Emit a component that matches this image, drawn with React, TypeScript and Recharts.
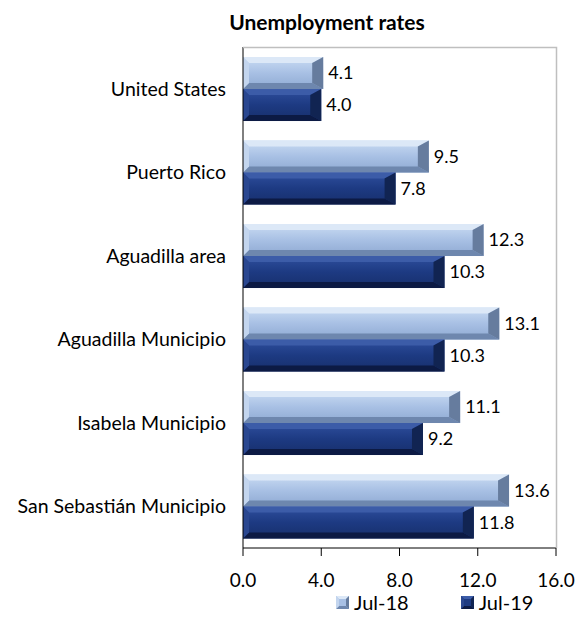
import React from "react";
import {
  BarChart,
  Bar,
  XAxis,
  YAxis,
  LabelList,
} from "recharts";

const categories = [
  "United States",
  "Puerto Rico",
  "Aguadilla area",
  "Aguadilla Municipio",
  "Isabela Municipio",
  "San Sebastián Municipio",
];
const jul18 = [4.1, 9.5, 12.3, 13.1, 11.1, 13.6];
const jul19 = [4.0, 7.8, 10.3, 10.3, 9.2, 11.8];
const xTicks = [0, 4, 8, 12, 16];
const seriesNames = ["Jul-18", "Jul-19"];

const data = categories.map((name, i) => ({ name, jul18: jul18[i], jul19: jul19[i] }));

const FONT = "Lato, 'Open Sans', sans-serif";

const palettes: Record<string, { top: string; mid: string; bot: string; tb: string; bb: string; rb: string; lb: string }> = {
  jul18: {
    top: "#cadcf3",
    mid: "#a8c0e4",
    bot: "#8ea9d2",
    tb: "#dce8f7",
    bb: "#6e87ae",
    rb: "#667c9e",
    lb: "#c3d5ee",
  },
  jul19: {
    top: "#2f4f9e",
    mid: "#1d3a82",
    bot: "#172f6c",
    tb: "#3c5ca8",
    bb: "#0c1a44",
    rb: "#112452",
    lb: "#2a4790",
  },
};

function BevelBar(props: any) {
  const { x, y, width, height, dataKey } = props;
  if (!width || width <= 0) return null;
  const p = palettes[dataKey];
  const b = Math.min(6, height / 4);
  const r = Math.min(11, width / 3);
  const id = "g-" + dataKey;
  return (
    <g>
      <defs>
        <linearGradient id={id} x1="0" y1="0" x2="0" y2="1">
          <stop offset="0%" stopColor={p.top} />
          <stop offset="50%" stopColor={p.mid} />
          <stop offset="100%" stopColor={p.bot} />
        </linearGradient>
      </defs>
      <rect x={x} y={y} width={width} height={height} fill={`url(#${id})`} />
      <polygon
        points={`${x},${y} ${x + width},${y} ${x + width - r},${y + b} ${x + b},${y + b}`}
        fill={p.tb}
      />
      <polygon
        points={`${x},${y + height} ${x + width},${y + height} ${x + width - r},${y + height - b} ${x + b},${y + height - b}`}
        fill={p.bb}
      />
      <polygon
        points={`${x + width},${y} ${x + width},${y + height} ${x + width - r},${y + height - b} ${x + width - r},${y + b}`}
        fill={p.rb}
      />
      <polygon
        points={`${x},${y} ${x},${y + height} ${x + b},${y + height - b} ${x + b},${y + b}`}
        fill={p.lb}
      />
    </g>
  );
}

function LegendIcon({ k }: { k: string }) {
  const p = palettes[k];
  return (
    <svg width={13} height={13} style={{ marginRight: 5 }}>
      <rect x={0} y={0} width={13} height={13} fill={p.mid} />
      <polygon points="0,0 13,0 10,3 3,3" fill={p.tb} />
      <polygon points="0,13 13,13 10,10 3,10" fill={p.bb} />
      <polygon points="13,0 13,13 10,10 10,3" fill={p.rb} />
      <polygon points="0,0 0,13 3,10 3,3" fill={p.lb} />
    </svg>
  );
}

export default function App() {
  const keys = ["jul18", "jul19"];
  return (
    <div style={{ position: "absolute", left: 0, top: 0, width: 579, height: 628, background: "#fff" }}>
      <div
        style={{
          position: "absolute",
          left: 207,
          top: 9,
          width: 240,
          textAlign: "center",
          fontFamily: FONT,
          fontWeight: "bold",
          fontSize: 21,
        }}
      >
        Unemployment rates
      </div>
      <BarChart
        width={579}
        height={628}
        data={data}
        layout="vertical"
        margin={{ top: 47, right: 23, bottom: 30, left: 0 }}
        barCategoryGap="12%"
        barGap={0}
      >
        <XAxis
          type="number"
          domain={[0, 16]}
          ticks={xTicks}
          tickFormatter={(v: number) => v.toFixed(1)}
          stroke="#000"
          tickSize={8}
          tickMargin={18}
          height={50}
          tick={{ fill: "#000", fontFamily: FONT, fontSize: 19 }}
        />
        <YAxis
          type="category"
          dataKey="name"
          width={243}
          axisLine={{ stroke: "#000" }}
          tickLine={false}
          tickMargin={11}
          tick={{ fill: "#000", fontFamily: FONT, fontSize: 19.5 }}
        />
        {keys.map((k, i) => (
          <Bar key={k} dataKey={k} name={seriesNames[i]} shape={<BevelBar />} isAnimationActive={false}>
            <LabelList
              dataKey={k}
              position="right"
              offset={5}
              formatter={(v: any) => Number(v).toFixed(1)}
              style={{ fill: "#000", fontFamily: FONT, fontSize: 18 }}
            />
          </Bar>
        ))}
      </BarChart>
      {/* plot area frame: top and right edges */}
      <svg style={{ position: "absolute", left: 0, top: 0, pointerEvents: "none" }} width={579} height={628}>
        <polyline points="243,47.5 556.5,47.5 556.5,548" fill="none" stroke="#bfbfbf" strokeWidth={1.5} />
      </svg>
      <div
        style={{
          position: "absolute",
          left: 336,
          top: 590,
          display: "flex",
          gap: 52,
          fontFamily: FONT,
          fontSize: 20,
          color: "#000",
        }}
      >
        {keys.map((k, i) => (
          <div key={k} style={{ display: "flex", alignItems: "center" }}>
            <LegendIcon k={k} />
            <span>{seriesNames[i]}</span>
          </div>
        ))}
      </div>
    </div>
  );
}
